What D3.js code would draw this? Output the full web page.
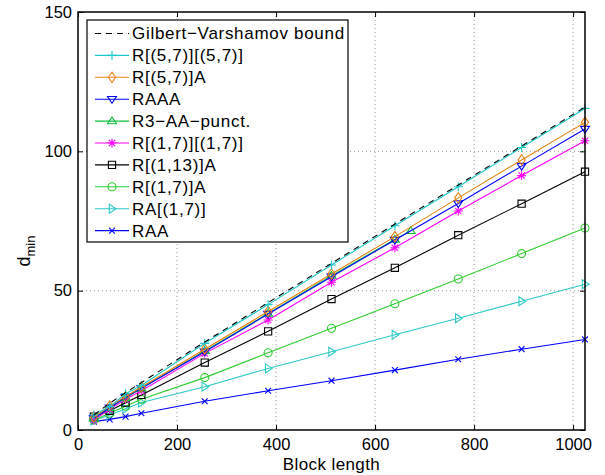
<!DOCTYPE html>
<html>
<head>
<meta charset="utf-8">
<script src="https://cdn.jsdelivr.net/npm/d3@7"></script>
<style>
body { margin: 0; background: #fff; }
svg { font-family: "Liberation Sans", Arial, sans-serif; }
</style>
</head>
<body>
<script>
// block lengths shared by most series
var blockLen = [32, 64, 96, 128, 256, 384, 512, 640, 768, 896, 1024];
var punctLen = [32, 64, 96, 128, 256, 384, 512, 640, 672];

// d_min values
var gvBound   = [5.4, 9.6, 13.4, 17.0, 31.6, 45.7, 59.8, 73.9, 87.9, 101.9, 115.9];
var r57r57    = [5.4, 8.4, 13.0, 16.0, 31.1, 45.0, 59.2, 73.3, 87.3, 101.4, 115.4];
var r57A      = [4.6, 8.6, 12.0, 15.4, 29.0, 42.5, 56.0, 69.4, 83.3, 96.9, 110.4];
var raaa      = [4.2, 8.0, 11.8, 15.0, 28.1, 41.6, 55.0, 68.2, 81.3, 94.7, 108.0];
var r3aaPunct = [4.2, 8.0, 11.5, 15.0, 28.4, 41.8, 55.4, 68.4, 71.5];
var r17r17    = [3.6, 7.4, 11.0, 14.1, 27.5, 39.5, 53.0, 65.4, 78.6, 91.3, 103.8];
var r113A     = [4.8, 6.9, 9.8, 12.6, 24.2, 35.4, 47.0, 58.2, 69.9, 81.2, 92.7];
var r17A      = [3.6, 6.0, 8.5, 11.0, 18.8, 27.7, 36.5, 45.3, 54.2, 63.3, 72.5];
var ra17      = [3.4, 5.4, 7.6, 9.9, 15.5, 22.1, 28.1, 34.2, 40.1, 46.2, 52.3];
var raa       = [3.0, 3.8, 4.8, 6.0, 10.3, 14.1, 17.7, 21.5, 25.4, 29.0, 32.5];

var xTicks = [0, 200, 400, 600, 800, 1000];
var yTicks = [0, 50, 100, 150];

var series = [
  {name: "Gilbert\u2212Varshamov bound", x: blockLen, y: gvBound, color: "#000", marker: "none", dash: "6,5"},
  {name: "R[(5,7)][(5,7)]", x: blockLen, y: r57r57, color: "#1ec8c8", marker: "plus"},
  {name: "R[(5,7)]A", x: blockLen, y: r57A, color: "#e8820e", marker: "diamond"},
  {name: "RAAA", x: blockLen, y: raaa, color: "#0000ff", marker: "tridown"},
  {name: "R3\u2212AA\u2212punct.", x: punctLen, y: r3aaPunct, color: "#0cbf3c", marker: "triup"},
  {name: "R[(1,7)][(1,7)]", x: blockLen, y: r17r17, color: "#ff00ff", marker: "star"},
  {name: "R[(1,13)]A", x: blockLen, y: r113A, color: "#000", marker: "square"},
  {name: "R[(1,7)]A", x: blockLen, y: r17A, color: "#2ecc2e", marker: "circle"},
  {name: "RA[(1,7)]", x: blockLen, y: ra17, color: "#2ec8c8", marker: "triright"},
  {name: "RAA", x: blockLen, y: raa, color: "#0000ff", marker: "cross"}
];

var width = 605, height = 475;
var mLeft = 78, mTop = 12, mRight = 585, mBottom = 430;

var svg = d3.select("body").append("svg")
  .attr("width", width)
  .attr("height", height);

var x = d3.scaleLinear().domain([0, 1024]).range([mLeft, mRight]);
var y = d3.scaleLinear().domain([0, 150]).range([mBottom, mTop]);

// grid
svg.append("g").selectAll("line")
  .data(xTicks.slice(1))
  .enter().append("line")
  .attr("x1", function(d){ return x(d); }).attr("x2", function(d){ return x(d); })
  .attr("y1", mTop).attr("y2", mBottom)
  .attr("stroke", "#999").attr("stroke-dasharray", "1,3");
svg.append("g").selectAll("line")
  .data(yTicks.slice(1, -1))
  .enter().append("line")
  .attr("x1", mLeft).attr("x2", mRight)
  .attr("y1", function(d){ return y(d); }).attr("y2", function(d){ return y(d); })
  .attr("stroke", "#999").attr("stroke-dasharray", "1,3");

// axes, ticks inward, mirrored on top/right
var fmt = d3.format("d");
var xAxis = d3.axisBottom(x).tickValues(xTicks).tickFormat(fmt).tickSize(-5).tickPadding(8);
var yAxis = d3.axisLeft(y).tickValues(yTicks).tickFormat(fmt).tickSize(-5).tickPadding(6);
svg.append("g").attr("transform", "translate(0," + mBottom + ")").call(xAxis)
  .call(function(g){ g.select(".domain").remove(); });
svg.append("g").attr("transform", "translate(" + mLeft + ",0)").call(yAxis)
  .call(function(g){ g.select(".domain").remove(); });
svg.append("g").attr("transform", "translate(0," + mTop + ")")
  .call(d3.axisTop(x).tickValues(xTicks).tickSize(-5).tickFormat(""))
  .call(function(g){ g.select(".domain").remove(); });
svg.append("g").attr("transform", "translate(" + mRight + ",0)")
  .call(d3.axisRight(y).tickValues(yTicks).tickSize(-5).tickFormat(""))
  .call(function(g){ g.select(".domain").remove(); });
svg.selectAll(".tick text").attr("font-size", 16.5).attr("fill", "#000")
  .attr("font-family", "Liberation Sans, Arial, sans-serif");
svg.selectAll(".tick line").attr("stroke", "#000");

// marker paths
function markerPath(type, s){
  var h = s / 2;
  switch(type){
    case "plus": return "M" + (-h) + ",0H" + h + "M0," + (-h) + "V" + h;
    case "cross": return "M" + (-h*0.65) + "," + (-h*0.65) + "L" + (h*0.65) + "," + (h*0.65) + "M" + (-h*0.65) + "," + (h*0.65) + "L" + (h*0.65) + "," + (-h*0.65);
    case "star": var a = h*0.7; return "M" + (-h) + ",0H" + h + "M0," + (-h) + "V" + h + "M" + (-a) + "," + (-a) + "L" + a + "," + a + "M" + (-a) + "," + a + "L" + a + "," + (-a);
    case "diamond": return "M0," + (-h*1.15) + "L" + (h*0.8) + ",0L0," + (h*1.15) + "L" + (-h*0.8) + ",0Z";
    case "square": return "M" + (-h*0.8) + "," + (-h*0.8) + "H" + (h*0.8) + "V" + (h*0.8) + "H" + (-h*0.8) + "Z";
    case "tridown": return "M" + (-h) + "," + (-h*0.6) + "H" + h + "L0," + (h*0.9) + "Z";
    case "triup": return "M" + (-h) + "," + (h*0.6) + "H" + h + "L0," + (-h*0.9) + "Z";
    case "triright": return "M" + (-h*0.6) + "," + (-h) + "V" + h + "L" + (h*0.9) + ",0Z";
    default: return null;
  }
}

function drawMarker(g, type, cx, cy, color){
  if (type === "none") return;
  if (type === "circle"){
    g.append("circle").attr("cx", cx).attr("cy", cy).attr("r", 4)
      .attr("fill", "none").attr("stroke", color).attr("stroke-width", 1.1);
    return;
  }
  g.append("path").attr("d", markerPath(type, 9))
    .attr("transform", "translate(" + cx + "," + cy + ")")
    .attr("fill", "none").attr("stroke", color).attr("stroke-width", 1.1);
}

var line = d3.line()
  .x(function(d){ return x(d[0]); })
  .y(function(d){ return y(d[1]); });

var plot = svg.append("g");
// draw bottom series first so the top of the legend list sits on top
series.slice().reverse().forEach(function(s){
  var pts = s.x.map(function(v, i){ return [v, s.y[i]]; });
  plot.append("path").datum(pts)
    .attr("d", line)
    .attr("fill", "none")
    .attr("stroke", s.color)
    .attr("stroke-width", 1.1)
    .attr("stroke-dasharray", s.dash || null);
  pts.forEach(function(p){ drawMarker(plot, s.marker, x(p[0]), y(p[1]), s.color); });
});

// axes box
svg.append("rect")
  .attr("x", mLeft).attr("y", mTop)
  .attr("width", mRight - mLeft).attr("height", mBottom - mTop)
  .attr("fill", "none").attr("stroke", "#000").attr("stroke-width", 1.5);

// legend
var lx = 87, ly = 20, lw = 261, lh = 222, step = 21.9;
var legend = svg.append("g");
legend.append("rect")
  .attr("x", lx).attr("y", ly).attr("width", lw).attr("height", lh)
  .attr("fill", "#fff").attr("stroke", "#000").attr("stroke-width", 1.2);
series.forEach(function(s, i){
  var cy = ly + 13.5 + i * step;
  legend.append("line")
    .attr("x1", lx + 8).attr("x2", lx + 42)
    .attr("y1", cy).attr("y2", cy)
    .attr("stroke", s.color).attr("stroke-width", 1.1)
    .attr("stroke-dasharray", s.dash || null);
  drawMarker(legend, s.marker, lx + 25, cy, s.color);
  legend.append("text")
    .attr("x", lx + 45).attr("y", cy)
    .attr("dy", "0.35em")
    .attr("font-size", 17)
    .attr("letter-spacing", 0.7)
    .text(s.name);
});

// axis titles
svg.append("text")
  .attr("x", (mLeft + mRight) / 2).attr("y", 470)
  .attr("text-anchor", "middle")
  .attr("font-size", 17)
  .attr("letter-spacing", 0.4)
  .text("Block length");

var yl = svg.append("text")
  .attr("transform", "translate(30," + 251 + ") rotate(-90)")
  .attr("text-anchor", "middle")
  .attr("font-size", 18);
yl.append("tspan").text("d");
yl.append("tspan").attr("font-size", 13).attr("dy", 5).text("min");
</script>
</body>
</html>
